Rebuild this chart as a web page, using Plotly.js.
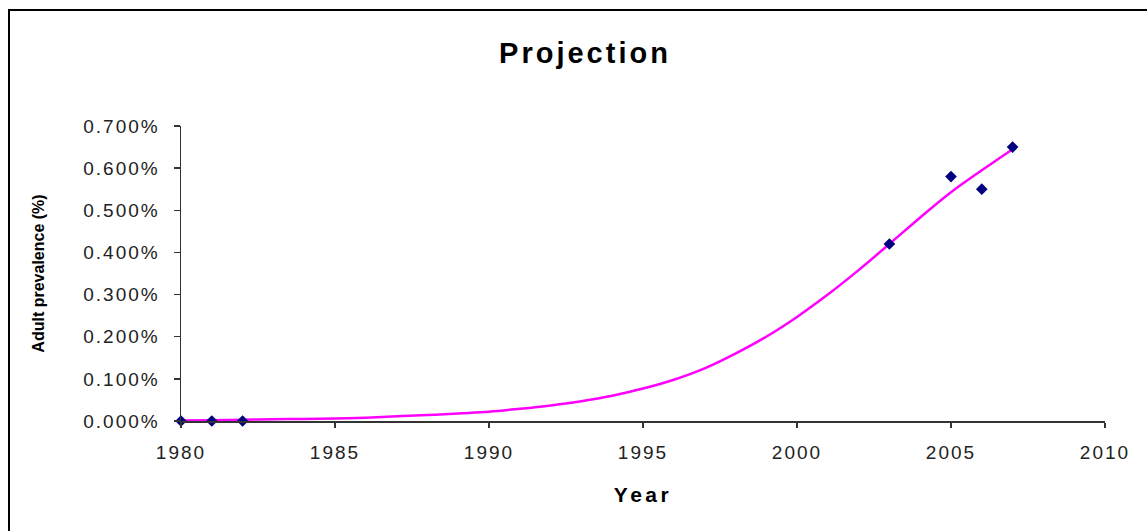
<!DOCTYPE html>
<html>
<head>
<meta charset="utf-8">
<script src="https://cdn.plot.ly/plotly-3.0.1.min.js"></script>
<style>
html,body{margin:0;padding:0;background:#fff;}
#chart{width:1147px;height:531px;}
#chart .xtick text, #chart .ytick text{letter-spacing:2px;}
#chart .gtitle{letter-spacing:3px;}
#chart .xtitle{letter-spacing:3.5px;}
</style>
</head>
<body>
<div id="chart"></div>
<script>
// Observed data (percent)
const obsYears = [1980, 1981, 1982, 2003, 2005, 2006, 2007];
const obsValues = [0.000, 0.000, 0.000, 0.420, 0.580, 0.550, 0.650];

// Projection curve (percent)
const curveYears = [1980,1981,1982,1983,1984,1985,1986,1987,1988,1989,1990,1991,1992,1993,1994,1995,1996,1997,1998,1999,2000,2001,2002,2003,2004,2005,2006,2007];
const curveValues = [0.001,0.002,0.003,0.004,0.005,0.006,0.008,0.011,0.014,0.018,0.022,0.029,0.037,0.047,0.060,0.077,0.098,0.125,0.160,0.200,0.247,0.300,0.358,0.420,0.483,0.543,0.595,0.645];

const yTickVals = [0,0.1,0.2,0.3,0.4,0.5,0.6,0.7];
const yTickText = ["0.000%","0.100%","0.200%","0.300%","0.400%","0.500%","0.600%","0.700%"];
const xTickVals = [1980,1985,1990,1995,2000,2005,2010];

const traces = [
  {
    x: curveYears, y: curveValues, type: 'scatter', mode: 'lines',
    line: {color: '#FF00FF', width: 2.5, shape: 'spline'},
    hoverinfo: 'skip', cliponaxis: false
  },
  {
    x: obsYears, y: obsValues, type: 'scatter', mode: 'markers',
    marker: {symbol: 'diamond', color: '#000080', size: 9},
    cliponaxis: false
  }
];

const axisFont = {family: 'Liberation Sans, Arial, sans-serif', size: 19, color: '#222'};

const layout = {
  width: 1147, height: 531,
  margin: {l: 181, r: 42, t: 126, b: 110},
  paper_bgcolor: '#fff', plot_bgcolor: '#fff',
  showlegend: false,
  title: {
    text: '<b>Projection</b>',
    x: 0.51, xref: 'container', xanchor: 'center',
    y: 0.9, yref: 'container', yanchor: 'middle',
    font: {family: 'Liberation Sans, Arial, sans-serif', size: 29, color: '#000'}
  },
  xaxis: {
    range: [1980, 2010], tickvals: xTickVals, ticktext: xTickVals.map(String),
    showgrid: false, zeroline: false,
    showline: true, linecolor: '#333', linewidth: 1.5,
    ticks: 'outside', ticklen: 5, tickcolor: '#333', tickwidth: 1.5,
    tickfont: axisFont, ticklabelstandoff: 9,
    title: {text: '<b>Year</b>', font: {family: 'Liberation Sans, Arial, sans-serif', size: 21, color: '#000'}, standoff: 25}
  },
  yaxis: {
    range: [0, 0.7], tickvals: yTickVals, ticktext: yTickText,
    showgrid: false, zeroline: false,
    showline: true, linecolor: '#333', linewidth: 1.5,
    ticks: 'outside', ticklen: 6, tickcolor: '#333', tickwidth: 1.5,
    tickfont: axisFont, ticklabelstandoff: 10,
    title: {text: '<b>Adult prevalence (%)</b>', font: {family: 'Liberation Sans Narrow, Arial Narrow, Liberation Sans, sans-serif', size: 16, color: '#000'}, standoff: 46}
  },
  shapes: [{
    type: 'rect', xref: 'paper', yref: 'paper',
    x0: (9 - 181) / 924, x1: 1.3,
    y0: -0.6, y1: (421 - 10) / 295,
    line: {color: '#000', width: 2}, fillcolor: 'rgba(0,0,0,0)', layer: 'below'
  }]
};

Plotly.newPlot('chart', traces, layout, {displayModeBar: false, staticPlot: true});
</script>
</body>
</html>
